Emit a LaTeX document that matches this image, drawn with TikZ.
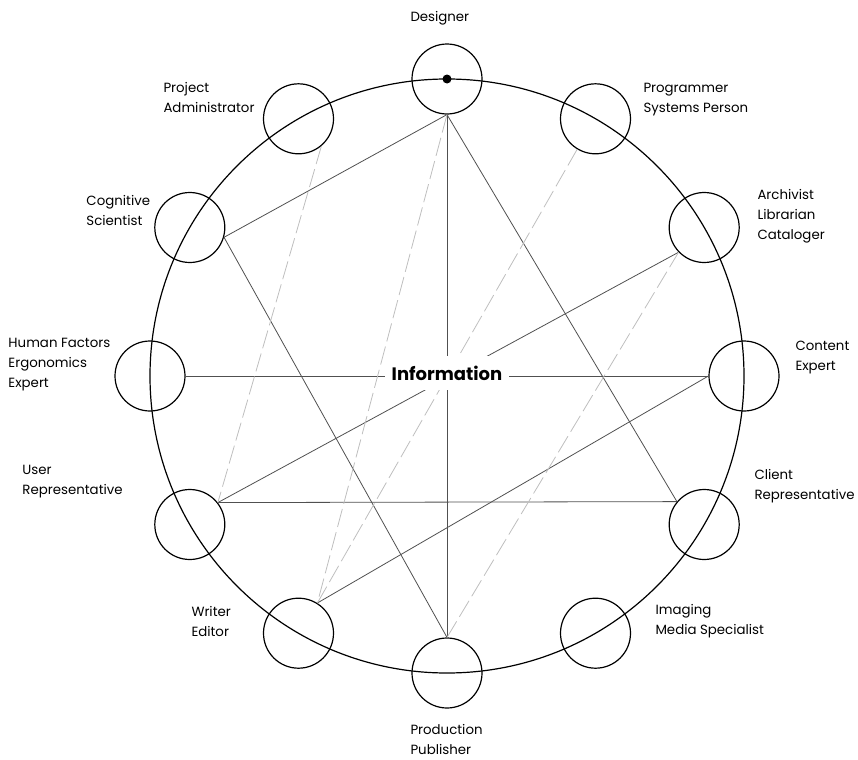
\documentclass[tikz,border=0pt]{standalone}
\usepackage{fontspec}
\setmainfont{Poppins}
\tikzset{every picture/.style={line width=0.75pt}}

\begin{document}
\begin{tikzpicture}[x=0.75pt,y=0.75pt,yscale=-1,xscale=1,
  member/.style={draw=black, circle, minimum size=52.5pt, inner sep=0pt, line width=0.9pt},
  firm/.style={draw={rgb, 255:red, 80; green, 80; blue, 80 }, line width=0.6pt},
  faint/.style={draw={rgb, 255:red, 190; green, 190; blue, 190 }, line width=0.6pt, dash pattern=on 14pt off 4pt},
  role/.style={anchor=west, align=left, font=\fontsize{10}{15}\selectfont, inner sep=0pt}]
\path [use as bounding box] (0,0) rectangle (858,760);

%Shape: Circle
\draw [line width=0.9pt] (447,376) circle [radius=297];

%Shape: Circle
\node [member] (des) at (447,79) {};
\node [member] (prog) at (595.5,118.8) {};
\node [member] (arch) at (704.2,227.5) {};
\node [member] (cont) at (744,376) {};
\node [member] (cli) at (704.2,524.5) {};
\node [member] (img) at (595.5,633.2) {};
\node [member] (prod) at (447,673) {};
\node [member] (wri) at (298.5,633.2) {};
\node [member] (usr) at (189.8,524.5) {};
\node [member] (hum) at (150,376) {};
\node [member] (cog) at (189.8,227.5) {};
\node [member] (proj) at (298.5,118.8) {};
%Shape: Circle
\fill (des.center) circle [radius=4.5];

%Straight Lines
\draw [firm] (des.south) -- (cog.-16);
\draw [firm] (des.south) -- (prod.north);
\draw [firm] (des.south) -- (cli.140);
\draw [firm] (cog.-16) -- (prod.north);
\draw [firm] (hum.east) -- (cont.west);
\draw [firm] (usr.38) -- (cli.140);
\draw [firm] (usr.38) -- (arch.-136);
\draw [firm] (wri.58) -- (cont.west);
%Straight Lines
\draw [faint] (proj.-50) -- (usr.38);
\draw [faint] (des.south) -- (wri.58);
\draw [faint] (prog.-121) -- (wri.58);
\draw [faint] (prod.north) -- (arch.-136);

% Text Node
\node [fill=white, inner xsep=5pt, inner ysep=7pt, font=\bfseries\fontsize{13.5}{16}\selectfont] (info) at (447,373) {Information};

% Text Node
\node [role] (desl) at (410,18) {Designer};
% Text Node
\node [role] (progl) at (643,100) {Programmer\\Systems Person};
% Text Node
\node [role] (archl) at (757,216) {Archivist\\Librarian\\Cataloger};
% Text Node
\node [role] (contl) at (795,358) {Content\\Expert};
% Text Node
\node [role] (clil) at (754,486) {Client\\Representative};
% Text Node
\node [role] (imgl) at (655,621) {Imaging\\Media Specialist};
% Text Node
\node [role] (prodl) at (410,739) {Production\\Publisher};
% Text Node
\node [role] (wril) at (191,621) {Writer\\Editor};
% Text Node
\node [role] (usrl) at (22,482) {User\\Representative};
% Text Node
\node [role] (huml) at (8,365) {Human Factors\\Ergonomics\\Expert};
% Text Node
\node [role] (cogl) at (86,210) {Cognitive\\Scientist};
% Text Node
\node [role] (projl) at (163,97) {Project\\Administrator};

\end{tikzpicture}
\end{document}
